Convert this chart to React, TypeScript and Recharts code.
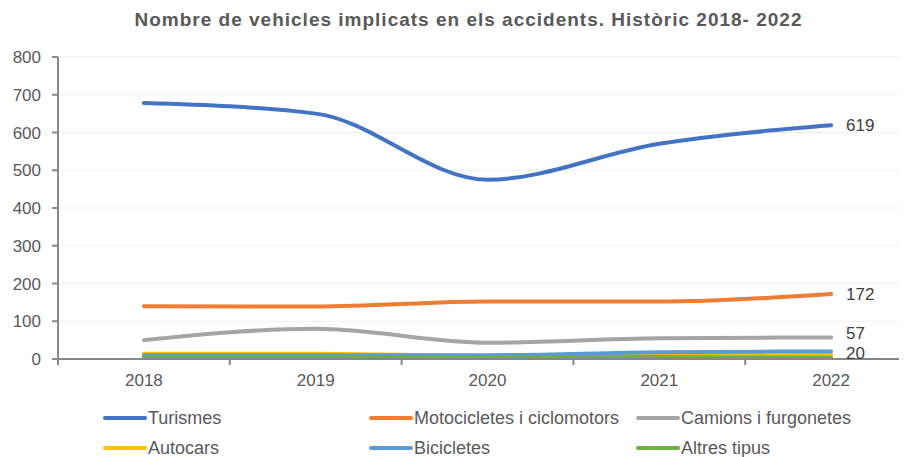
import React from 'react';
import { LineChart, Line, XAxis, YAxis, CartesianGrid, Legend, LabelList } from 'recharts';

const years = ['2018', '2019', '2020', '2021', '2022'];
const turismes = [678, 650, 475, 570, 619];
const motocicletes = [140, 139, 152, 152, 172];
const camions = [50, 80, 43, 55, 57];
const autocars = [14, 14, 8, 9, 10];
const bicicletes = [10, 10, 10, 18, 20];
const altres = [4, 4, 3, 5, 3];
const yTicks = [0, 100, 200, 300, 400, 500, 600, 700, 800];
const endLabelSeries = ['turismes', 'motocicletes', 'camions', 'bicicletes'];

const series = [
  { key: 'turismes', name: 'Turismes', color: '#4472C4' },
  { key: 'motocicletes', name: 'Motocicletes i ciclomotors', color: '#ED7D31' },
  { key: 'camions', name: 'Camions i furgonetes', color: '#A5A5A5' },
  { key: 'autocars', name: 'Autocars', color: '#FFC000' },
  { key: 'bicicletes', name: 'Bicicletes', color: '#5B9BD5' },
  { key: 'altres', name: 'Altres tipus', color: '#70AD47' },
];

const data = years.map((year, i) => ({
  year,
  x: i + 0.5,
  turismes: turismes[i],
  motocicletes: motocicletes[i],
  camions: camions[i],
  autocars: autocars[i],
  bicicletes: bicicletes[i],
  altres: altres[i],
}));

const xTicks: number[] = [];
for (let i = 0; i <= years.length; i++) {
  xTicks.push(i);
  if (i < years.length) xTicks.push(i + 0.5);
}

const FONT = '"Liberation Sans", Arial, sans-serif';

const XTick = (props: any) => {
  const { x, y, payload } = props;
  const v = payload.value as number;
  if (Number.isInteger(v)) {
    return <line x1={x} x2={x} y1={y - 6} y2={y} stroke="#878787" strokeWidth={2} />;
  }
  const label = years[Math.floor(v)];
  return (
    <text x={x} y={y + 9} dy="0.71em" textAnchor="middle" fill="#595959" fontSize={17} fontFamily={FONT}>
      {label}
    </text>
  );
};

const makeEndLabel = (offsetY: number) => (props: any) => {
  const { x, y, value, index } = props;
  if (index !== years.length - 1 || value == null) return null;
  return (
    <text x={x + 15} y={y + offsetY} dominantBaseline="central" fill="#404040" fontSize={17} fontFamily={FONT}>
      {value}
    </text>
  );
};

const legendCols = [95, 361, 628];

const renderLegend = () => (
  <div style={{ position: 'relative', width: 899, height: 68, fontFamily: FONT }}>
    {series.map((s, i) => {
      const col = i % 3;
      const row = Math.floor(i / 3);
      return (
        <div
          key={s.key}
          style={{
            position: 'absolute',
            left: legendCols[col],
            top: 29 + row * 30 - 11,
            height: 22,
            display: 'flex',
            alignItems: 'center',
            whiteSpace: 'nowrap',
          }}
        >
          <svg width={44} height={22} style={{ display: 'block' }}>
            <line x1={2} x2={42} y1={11} y2={11} stroke={s.color} strokeWidth={4} strokeLinecap="round" />
          </svg>
          <span style={{ fontSize: 18, color: '#595959', marginLeft: 1 }}>{s.name}</span>
        </div>
      );
    })}
  </div>
);

export default function App() {
  return (
    <div style={{ position: 'relative', width: 899, height: 449, overflow: 'hidden', background: '#fff' }}>
      <div
        style={{
          position: 'absolute',
          left: 0,
          width: 921,
          top: 1,
          height: 22,
          lineHeight: '22px',
          textAlign: 'center',
          fontFamily: FONT,
          fontWeight: 'bold',
          fontSize: 19,
          letterSpacing: 1,
          color: '#595959',
        }}
      >
        Nombre de vehicles implicats en els accidents. Històric 2018- 2022
      </div>
      <LineChart width={909} height={449} data={data} margin={{ top: 49, right: 0, left: 0, bottom: 0 }}>
        <CartesianGrid vertical={false} stroke="#ededed" strokeWidth={1} />
        <XAxis
          type="number"
          dataKey="x"
          domain={[0, years.length]}
          ticks={xTicks}
          interval={0}
          tickLine={false}
          tickSize={6}
          tickMargin={0}
          axisLine={{ stroke: '#878787', strokeWidth: 2 }}
          tick={<XTick />}
          height={30}
          allowDataOverflow
        />
        <YAxis
          domain={[0, 800]}
          ticks={yTicks}
          interval={0}
          width={50}
          tickSize={6}
          tickMargin={11}
          axisLine={{ stroke: '#878787', strokeWidth: 2 }}
          tickLine={{ stroke: '#878787', strokeWidth: 2 }}
          tick={{ fill: '#595959', fontSize: 17, fontFamily: FONT }}
        />
        <Legend verticalAlign="bottom" height={68} content={renderLegend} />
        {series.map((s) => (
          <Line
            key={s.key}
            type="monotone"
            dataKey={s.key}
            name={s.name}
            stroke={s.color}
            strokeWidth={4}
            strokeLinecap="round"
            dot={false}
            activeDot={false}
            isAnimationActive={false}
          >
            {endLabelSeries.includes(s.key) && (
              <LabelList dataKey={s.key} content={makeEndLabel(s.key === 'camions' ? -4 : s.key === 'bicicletes' ? 2 : 0)} />
            )}
          </Line>
        ))}
      </LineChart>
    </div>
  );
}
